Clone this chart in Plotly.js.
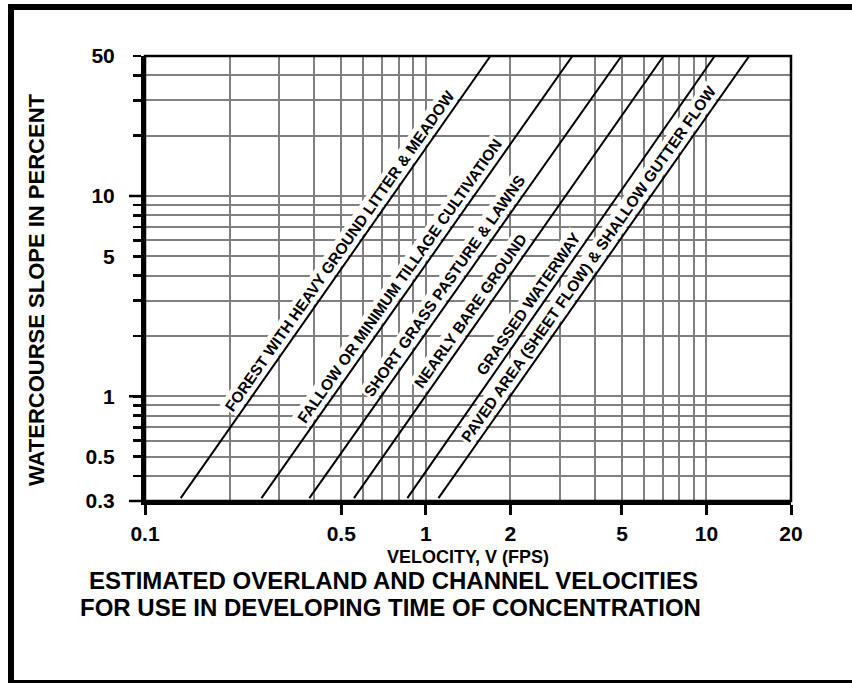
<!DOCTYPE html>
<html>
<head>
<meta charset="utf-8">
<script src="https://cdn.plot.ly/plotly-3.0.1.min.js"></script>
<style>
html,body{margin:0;padding:0;background:#fff;}
#chart{width:852px;height:683px;}
</style>
</head>
<body>
<div id="chart"></div>
<script>
// ---------------- DATA ----------------
const surfaceTypes = [
  "FOREST WITH HEAVY GROUND LITTER & MEADOW",
  "FALLOW OR MINIMUM TILLAGE CULTIVATION",
  "SHORT GRASS PASTURE & LAWNS",
  "NEARLY BARE GROUND",
  "GRASSED WATERWAY",
  "PAVED AREA (SHEET FLOW) & SHALLOW GUTTER FLOW"
];
const slopeEnds = [0.31, 50];                                   // watercourse slope, %
const velocityAtLowSlope  = [0.134, 0.26, 0.385, 0.555, 0.86, 1.11]; // V (fps) at 0.31 %
const velocityAtHighSlope = [1.70, 3.33, 4.98, 7.03, 10.7, 14.2];    // V (fps) at 50 %

const xTickVals = [0.1, 0.5, 1, 2, 5, 10, 20];
const xTickText = ["0.1", "0.5", "1", "2", "5", "10", "20"];
const xGridVals = [0.2, 0.3, 0.4, 0.6, 0.7, 0.8, 0.9, 3, 4, 6, 7, 8, 9];
const yTickVals = [0.3, 0.5, 1, 5, 10, 50];
const yTickText = ["0.3", "0.5", "1", "5", "10", "50"];
const yGridVals = [0.4, 0.6, 0.7, 0.8, 0.9, 2, 3, 4, 6, 7, 8, 9, 20, 30, 40];
const yLongTicks = [0.3, 1, 10];

// ---------------- LAYOUT / STYLE ----------------
const W = 852, H = 683;
const M = {l: 145, r: 61, t: 56, b: 182};
const plotW = W - M.l - M.r, plotH = H - M.t - M.b;
const xRange = [Math.log10(0.1), Math.log10(20)];
const yRange = [Math.log10(0.3), Math.log10(50)];
const FONT = "Liberation Sans, Arial, Helvetica, sans-serif";
const GRID = "#808080";
const px2paperX = p => (p - M.l) / plotW;
const px2paperY = p => (H - M.b - p) / plotH;
const yPaper = v => (Math.log10(v) - yRange[0]) / (yRange[1] - yRange[0]);

// where along each line its label sits (slope value) – placement only
const labelAnchorSlope = [4.9, 3.5, 3.3, 2.45, 2.7, 4.25];
const labelOffset = 12;

const traces = surfaceTypes.map((name, i) => ({
  type: "scatter", mode: "lines", name: name,
  x: [velocityAtLowSlope[i], velocityAtHighSlope[i]],
  y: slopeEnds,
  line: {color: "#000", width: 2},
  hoverinfo: "skip", showlegend: false
}));

const pxPerDecX = plotW / (xRange[1] - xRange[0]);
const pxPerDecY = plotH / (yRange[1] - yRange[0]);

const annotations = surfaceTypes.map((name, i) => {
  const ls0 = Math.log10(slopeEnds[0]), ls1 = Math.log10(slopeEnds[1]);
  const lv0 = Math.log10(velocityAtLowSlope[i]), lv1 = Math.log10(velocityAtHighSlope[i]);
  const ls = Math.log10(labelAnchorSlope[i]);
  const t = (ls - ls0) / (ls1 - ls0);
  const lv = lv0 + t * (lv1 - lv0);
  const ang = Math.atan2((ls1 - ls0) * pxPerDecY, (lv1 - lv0) * pxPerDecX);
  return {
    x: lv, y: ls, xref: "x", yref: "y", showarrow: false,
    xanchor: "center", yanchor: "middle",
    text: name, textangle: -ang * 180 / Math.PI,
    xshift: -Math.sin(ang) * labelOffset, yshift: Math.cos(ang) * labelOffset,
    bgcolor: "#fff", borderpad: 1,
    font: {family: FONT, size: 15.5, color: "#000", weight: "bold"}
  };
});

const centred = {showarrow: false, xref: "paper", yref: "paper", xanchor: "center", yanchor: "middle"};
annotations.push(
  Object.assign({}, centred, {x: 0.5, y: px2paperY(557),
   text: "VELOCITY, V (FPS)", font: {family: FONT, size: 18, color: "#000", weight: "bold"}}),
  Object.assign({}, centred, {x: px2paperX(36), y: px2paperY(290),
   text: "WATERCOURSE SLOPE IN PERCENT", textangle: -90,
   font: {family: FONT, size: 22, color: "#000", weight: "bold"}}),
  Object.assign({}, centred, {x: px2paperX(393), y: px2paperY(580),
   text: "ESTIMATED OVERLAND AND CHANNEL VELOCITIES",
   font: {family: FONT, size: 24, color: "#000", weight: "bold"}}),
  Object.assign({}, centred, {x: px2paperX(390), y: px2paperY(607),
   text: "FOR USE IN DEVELOPING TIME OF CONCENTRATION",
   font: {family: FONT, size: 24, color: "#000", weight: "bold"}})
);

const shapes = [
  // plot box (top & right edges)
  {type: "rect", xref: "paper", yref: "paper", x0: 0, x1: 1, y0: 0, y1: 1,
   line: {color: "#000", width: 2.5}, layer: "above"},
  // outer frame
  {type: "line", xref: "paper", yref: "paper", x0: px2paperX(11), x1: px2paperX(11),
   y0: px2paperY(4), y1: px2paperY(690), line: {color: "#000", width: 6}},
  {type: "line", xref: "paper", yref: "paper", x0: px2paperX(8), x1: px2paperX(870),
   y0: px2paperY(7), y1: px2paperY(7), line: {color: "#000", width: 6}},
  {type: "line", xref: "paper", yref: "paper", x0: px2paperX(8), x1: px2paperX(870),
   y0: px2paperY(682), y1: px2paperY(682), line: {color: "#000", width: 4}}
].concat(yLongTicks.map(v => ({
  type: "line", xref: "paper", yref: "paper",
  x0: px2paperX(129), x1: px2paperX(143), y0: yPaper(v), y1: yPaper(v),
  line: {color: "#000", width: 2.5}
})));

const layout = {
  width: W, height: H, margin: M,
  paper_bgcolor: "#fff", plot_bgcolor: "#fff",
  showlegend: false,
  xaxis: {
    type: "log", range: xRange, fixedrange: true,
    tickmode: "array", tickvals: xTickVals, ticktext: xTickText,
    ticks: "outside", ticklen: 10, tickwidth: 3, tickcolor: "#000",
    showgrid: true, gridcolor: GRID, gridwidth: 2,
    minor: {tickmode: "array", tickvals: xGridVals, showgrid: true,
            gridcolor: GRID, gridwidth: 2, ticks: ""},
    showline: true, linecolor: "#000", linewidth: 3.5, zeroline: false,
    ticklabelstandoff: 1,
    tickfont: {family: FONT, size: 21, color: "#000", weight: "bold"}
  },
  yaxis: {
    type: "log", range: yRange, fixedrange: true,
    tickmode: "array", tickvals: yTickVals, ticktext: yTickText,
    ticks: "outside", ticklen: 8, tickwidth: 2.5, tickcolor: "#000",
    showgrid: true, gridcolor: GRID, gridwidth: 2,
    minor: {tickmode: "array", tickvals: yGridVals, showgrid: true,
            gridcolor: GRID, gridwidth: 2, ticks: "outside", ticklen: 8,
            tickwidth: 2.5, tickcolor: "#000"},
    showline: true, linecolor: "#000", linewidth: 4, zeroline: false,
    ticklabelstandoff: 14,
    tickfont: {family: FONT, size: 21, color: "#000", weight: "bold"}
  },
  annotations: annotations,
  shapes: shapes
};

Plotly.newPlot("chart", traces, layout, {displayModeBar: false, staticPlot: true});
</script>
</body>
</html>
